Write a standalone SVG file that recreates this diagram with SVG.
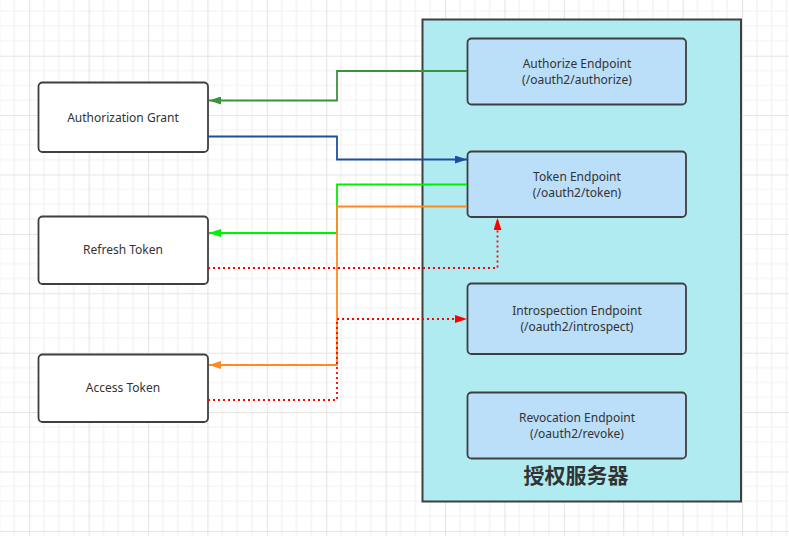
<svg xmlns="http://www.w3.org/2000/svg" width="789" height="536" viewBox="0 0 789 536">
<defs>
<pattern id="grid" patternUnits="userSpaceOnUse" x="29.2" y="55.7" width="59.4" height="59.4">
<rect width="59.4" height="59.4" fill="#ffffff"/>
<path d="M14.85 0V59.4M29.7 0V59.4M44.55 0V59.4M0 14.85H59.4M0 29.7H59.4M0 44.55H59.4" stroke="#f1f1f1" stroke-width="1.2" fill="none"/>
<path d="M0.5 0V59.4M0 0.5H59.4" stroke="#e4e4e4" stroke-width="1.2" fill="none"/>
</pattern>
<marker id="aDG" viewBox="0 0 12 8" refX="12" refY="4" markerWidth="12" markerHeight="8" markerUnits="userSpaceOnUse" orient="auto"><path d="M0 0L12 4L0 8z" fill="#3a933a"/></marker>
<marker id="aB" viewBox="0 0 12 8" refX="12" refY="4" markerWidth="12" markerHeight="8" markerUnits="userSpaceOnUse" orient="auto"><path d="M0 0L12 4L0 8z" fill="#1a4fa6"/></marker>
<marker id="aG" viewBox="0 0 12 8" refX="12" refY="4" markerWidth="12" markerHeight="8" markerUnits="userSpaceOnUse" orient="auto"><path d="M0 0L12 4L0 8z" fill="#00f000"/></marker>
<marker id="aO" viewBox="0 0 12 8" refX="12" refY="4" markerWidth="12" markerHeight="8" markerUnits="userSpaceOnUse" orient="auto"><path d="M0 0L12 4L0 8z" fill="#ff8a22"/></marker>
<marker id="aR" viewBox="0 0 12 8" refX="12" refY="4" markerWidth="12" markerHeight="8" markerUnits="userSpaceOnUse" orient="auto"><path d="M0 0L12 4L0 8z" fill="#ff0000"/></marker>
</defs>
<style>
.client{fill:#ffffff;stroke:#3f3f3f;stroke-width:1.8}
.ep{fill:#bbdef9;stroke:#3f3f3f;stroke-width:1.8}
.server{fill:#b0ebf2;stroke:#3f3f3f;stroke-width:2}
.t{font-family:"Noto Sans","Open Sans","Liberation Sans",sans-serif;font-size:12px;fill:#333333;text-anchor:middle}
.title{font-family:"Noto Sans CJK SC","Noto Sans",sans-serif;font-size:21px;font-weight:bold;fill:#333333;text-anchor:middle}
.c{fill:none;stroke-width:1.8}
.dot{fill:none;stroke:#ff0000;stroke-width:1.8;stroke-dasharray:2 3}
</style>
<rect width="789" height="536" fill="url(#grid)"/>
<g id="server">
<rect class="server" x="422.5" y="19.5" width="318.5" height="482"/>
<text class="title" x="576" y="483">授权服务器</text>
</g>
<g id="authorize-endpoint">
<rect class="ep" x="467.5" y="38.5" width="218.5" height="66" rx="4"/>
<text class="t" x="577" y="68">Authorize Endpoint</text>
<text class="t" x="577" y="83.5">(/oauth2/authorize)</text>
</g>
<g id="token-endpoint">
<rect class="ep" x="467.5" y="151.5" width="218.5" height="65.5" rx="4"/>
<text class="t" x="577" y="181">Token Endpoint</text>
<text class="t" x="577" y="196.5">(/oauth2/token)</text>
</g>
<g id="introspection-endpoint">
<rect class="ep" x="467.5" y="283.5" width="218.5" height="70.5" rx="4"/>
<text class="t" x="577" y="315">Introspection Endpoint</text>
<text class="t" x="577" y="330.5">(/oauth2/introspect)</text>
</g>
<g id="revocation-endpoint">
<rect class="ep" x="467.5" y="392.5" width="218.5" height="66" rx="4"/>
<text class="t" x="577" y="422">Revocation Endpoint</text>
<text class="t" x="577" y="437.5">(/oauth2/revoke)</text>
</g>
<g id="authorization-grant">
<rect class="client" x="38.5" y="82.5" width="169.5" height="69.5" rx="4"/>
<text class="t" x="123" y="121.5">Authorization Grant</text>
</g>
<g id="refresh-token">
<rect class="client" x="38.5" y="216.5" width="169.5" height="67.5" rx="4"/>
<text class="t" x="123" y="254">Refresh Token</text>
</g>
<g id="access-token">
<rect class="client" x="38.5" y="354.5" width="169.5" height="67.5" rx="4"/>
<text class="t" x="123" y="392">Access Token</text>
</g>
<g id="connectors">
<path class="c" stroke="#3a933a" d="M467 71H337V100.5H209" marker-end="url(#aDG)"/>
<path class="c" stroke="#1a4fa6" d="M208 136.5H337V159.5H467" marker-end="url(#aB)"/>
<path class="c" stroke="#00f000" d="M467 184.5H337V233H209" marker-end="url(#aG)"/>
<path class="c" stroke="#ff8a22" d="M467 206.5H337V365H209" marker-end="url(#aO)"/>
<path class="dot" d="M208 268H497.5V218" marker-end="url(#aR)"/>
<path class="dot" d="M208 400H337V319H467" marker-end="url(#aR)"/>
</g>
</svg>
